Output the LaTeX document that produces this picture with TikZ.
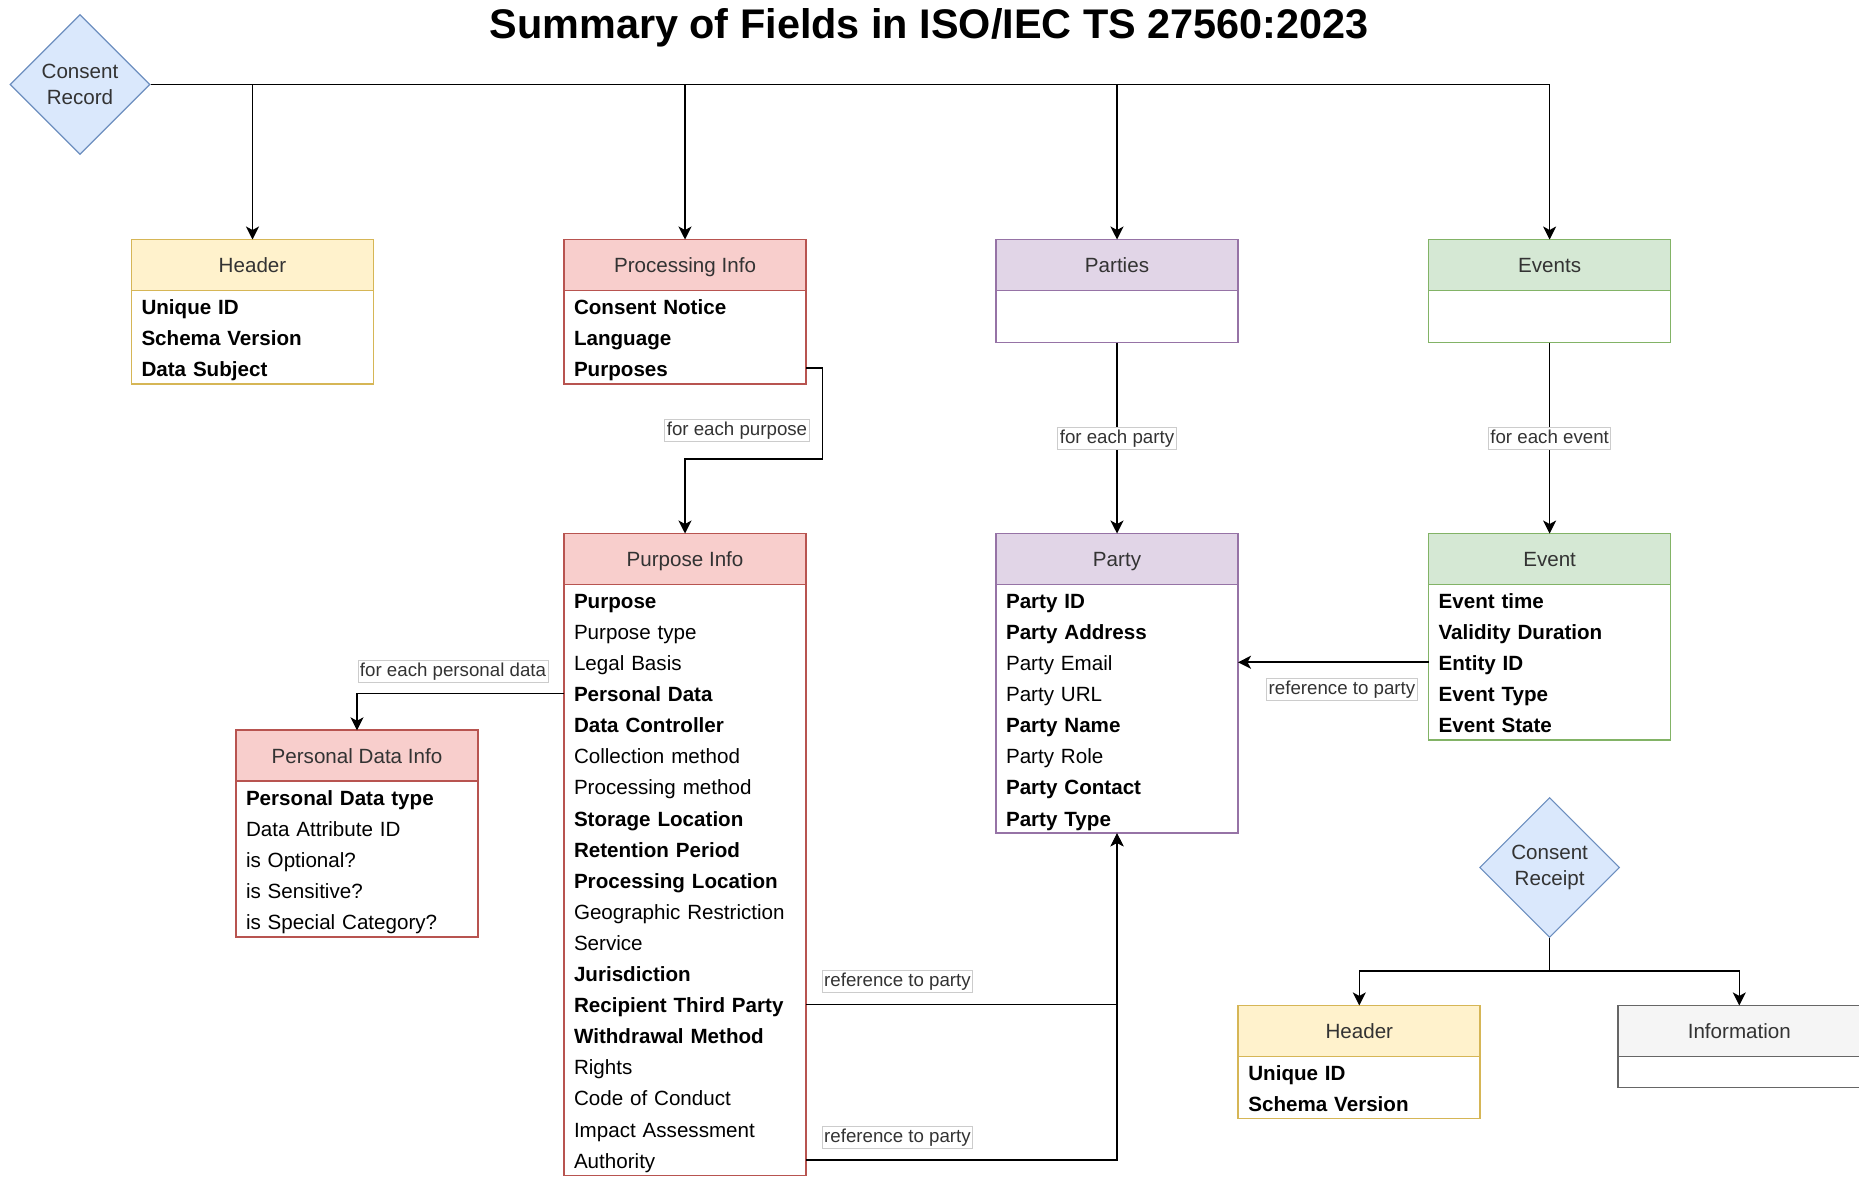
\documentclass[tikz,border=0pt]{standalone}
\usepackage{fontspec}
\setmainfont{Liberation Sans}
\usepackage{tikz}
\usetikzlibrary{positioning, shapes.geometric, arrows.meta}

\definecolor{yellowfill}{HTML}{FFF2CC}
\definecolor{yellowline}{HTML}{D6B656}
\definecolor{redfill}{HTML}{F8CECC}
\definecolor{redline}{HTML}{B85450}
\definecolor{purplefill}{HTML}{E1D5E7}
\definecolor{purpleline}{HTML}{9673A6}
\definecolor{greenfill}{HTML}{D5E8D4}
\definecolor{greenline}{HTML}{82B366}
\definecolor{bluefill}{HTML}{DAE8FC}
\definecolor{blueline}{HTML}{6C8EBF}
\definecolor{grayfill}{HTML}{F5F5F5}
\definecolor{grayline}{HTML}{666666}
\definecolor{softtext}{HTML}{333333}

\newcommand{\rowfont}{\fontsize{20.6pt}{31.1pt}\selectfont}
\newcommand{\rowstrut}{\rule[-7.3pt]{0pt}{31.1pt}}

\tikzset{
  head/.style={rectangle, draw, line width=1.7pt, outer sep=0pt, minimum width=242pt, minimum height=51pt, inner sep=0pt, text height=15pt, text depth=0pt, anchor=north, font=\rowfont, text=softtext},
  body/.style={rectangle, draw, fill=white, line width=1.7pt, outer sep=0pt, text width=222pt, inner xsep=10pt, inner ysep=0pt, align=left, font=\rowfont, execute at begin node=\rowstrut, execute at end node=\rowstrut},
  choice/.style={diamond, draw=blueline, fill=bluefill, line width=1.2pt, minimum width=140pt, minimum height=140pt, inner sep=0pt, align=center, font=\fontsize{20.6pt}{26pt}\selectfont, text=softtext},
  arrow/.style={-{Stealth[length=13pt, width=13pt, inset=3.5pt]}, line width=1.6pt},
}

\begin{document}
\begin{tikzpicture}[x=1pt, y=-1pt]
  \tikzset{
    yhead/.style={head, fill=yellowfill, draw=yellowline},
    ybody/.style={body, draw=yellowline},
    rhead/.style={head, fill=redfill, draw=redline},
    rbody/.style={body, draw=redline},
    phead/.style={head, fill=purplefill, draw=purpleline},
    pbody/.style={body, draw=purpleline},
    ghead/.style={head, fill=greenfill, draw=greenline},
    gbody/.style={body, draw=greenline},
    ehead/.style={head, fill=grayfill, draw=grayline},
    ebody/.style={body, draw=grayline},
    edgelabel/.style={rectangle, draw=black!20, fill=white, line width=0.8pt, inner xsep=2pt, inner ysep=2pt, text height=14pt, text depth=4pt, font=\fontsize{18.7pt}{22pt}\selectfont, text=softtext},
  }
  \useasboundingbox (0,0) rectangle (1859,1179);

  % Title
  \node[font=\fontsize{41.4pt}{48pt}\selectfont\bfseries, anchor=base] (title) at (929,38.7) {Summary of Fields in ISO/IEC TS 27560:2023};

  % Consent record and its parts
  \node[choice] (record) at (80,84.5) {Consent\\Record};

  \node[yhead] (header) at (252.5,239.5) {Header};
  \node[ybody, below=0pt of header] (header-body) {\textbf{Unique ID}\\ \textbf{Schema Version}\\ \textbf{Data Subject}};

  \node[rhead] (proc) at (685,239.5) {Processing Info};
  \node[rbody, below=0pt of proc] (proc-body) {\textbf{Consent Notice}\\ \textbf{Language}\\ \textbf{Purposes}};

  \node[phead] (parties) at (1117,239.5) {Parties};
  \node[pbody, below=0pt of parties, minimum height=52pt] (parties-body) {};

  \node[ghead] (events) at (1549.6,239.5) {Events};
  \node[gbody, below=0pt of events, minimum height=52pt] (events-body) {};

  % Second level
  \node[rhead] (purpose) at (685,533.5) {Purpose Info};
  \node[rbody, below=0pt of purpose] (purpose-body) {\textbf{Purpose}\\ Purpose type\\ Legal Basis\\ \textbf{Personal Data}\\ \textbf{Data Controller}\\ Collection method\\ Processing method\\ \textbf{Storage Location}\\ \textbf{Retention Period}\\ \textbf{Processing Location}\\ Geographic Restriction\\ Service\\ \textbf{Jurisdiction}\\ \textbf{Recipient Third Party}\\ \textbf{Withdrawal Method}\\ Rights\\ Code of Conduct\\ Impact Assessment\\ Authority};

  \node[phead] (party) at (1117,533.5) {Party};
  \node[pbody, below=0pt of party] (party-body) {\textbf{Party ID}\\ \textbf{Party Address}\\ Party Email\\ Party URL\\ \textbf{Party Name}\\ Party Role\\ \textbf{Party Contact}\\ \textbf{Party Type}};

  \node[ghead] (event) at (1549.6,533.5) {Event};
  \node[gbody, below=0pt of event] (event-body) {\textbf{Event time}\\ \textbf{Validity Duration}\\ \textbf{Entity ID}\\ \textbf{Event Type}\\ \textbf{Event State}};

  \node[rhead] (pdata) at (357,730.3) {Personal Data Info};
  \node[rbody, below=0pt of pdata] (pdata-body) {\textbf{Personal Data type}\\ Data Attribute ID\\ is Optional?\\ is Sensitive?\\ is Special Category?};

  % Consent receipt
  \node[choice] (receipt) at (1549.6,867.5) {Consent\\Receipt};

  \node[yhead] (rheader) at (1359.3,1005.4) {Header};
  \node[ybody, below=0pt of rheader] (rheader-body) {\textbf{Unique ID}\\ \textbf{Schema Version}};

  \node[ehead] (info) at (1739.3,1005.4) {Information};
  \node[ebody, below=0pt of info] (info-body) {};

  % Row ends used by connectors
  \coordinate (purposes-row) at ([yshift=-77.75pt]proc-body.north east);
  \coordinate (pdata-row) at ([yshift=-108.85pt]purpose-body.north west);
  \coordinate (recipient-row) at ([yshift=-419.85pt]purpose-body.north east);
  \coordinate (authority-row) at ([yshift=-575.35pt]purpose-body.north east);
  \coordinate (entity-row) at ([yshift=-77.75pt]event-body.north west);

  % Record to its parts
  \draw[arrow] (record.east) -| (header.north);
  \draw[arrow] (record.east) -| (proc.north);
  \draw[arrow] (record.east) -| (parties.north);
  \draw[arrow] (record.east) -| (events.north);

  % Repeated parts
  \draw[arrow] (purposes-row) -- ++(16.6,0) |- ([yshift=74.7pt]purpose.north) -- (purpose.north);
  \node[edgelabel] (lbl-purpose) at (737,430) {for each purpose};

  \draw[arrow] (parties-body.south) -- node[edgelabel] (lbl-party) {for each party} (party.north);
  \draw[arrow] (events-body.south) -- node[edgelabel] (lbl-event) {for each event} (event.north);

  \draw[arrow] (pdata-row) -| (pdata.north);
  \node[edgelabel] (lbl-pdata) at (453,671) {for each personal data};

  % References to party
  \draw[arrow] (entity-row) -- (entity-row -| party-body.east);
  \node[edgelabel] (lbl-ref1) at (1342,689) {reference to party};

  \draw[arrow] (recipient-row) -| (party-body.south);
  \draw[arrow] (authority-row) -| (party-body.south);
  \node[edgelabel] (lbl-ref2) at (897.5,981.7) {reference to party};
  \node[edgelabel] (lbl-ref3) at (897.5,1137) {reference to party};

  % Receipt to its parts
  \draw[arrow] (receipt.south) -- ++(0,33) -| (rheader.north);
  \draw[arrow] (receipt.south) -- ++(0,33) -| (info.north);

\end{tikzpicture}
\end{document}
